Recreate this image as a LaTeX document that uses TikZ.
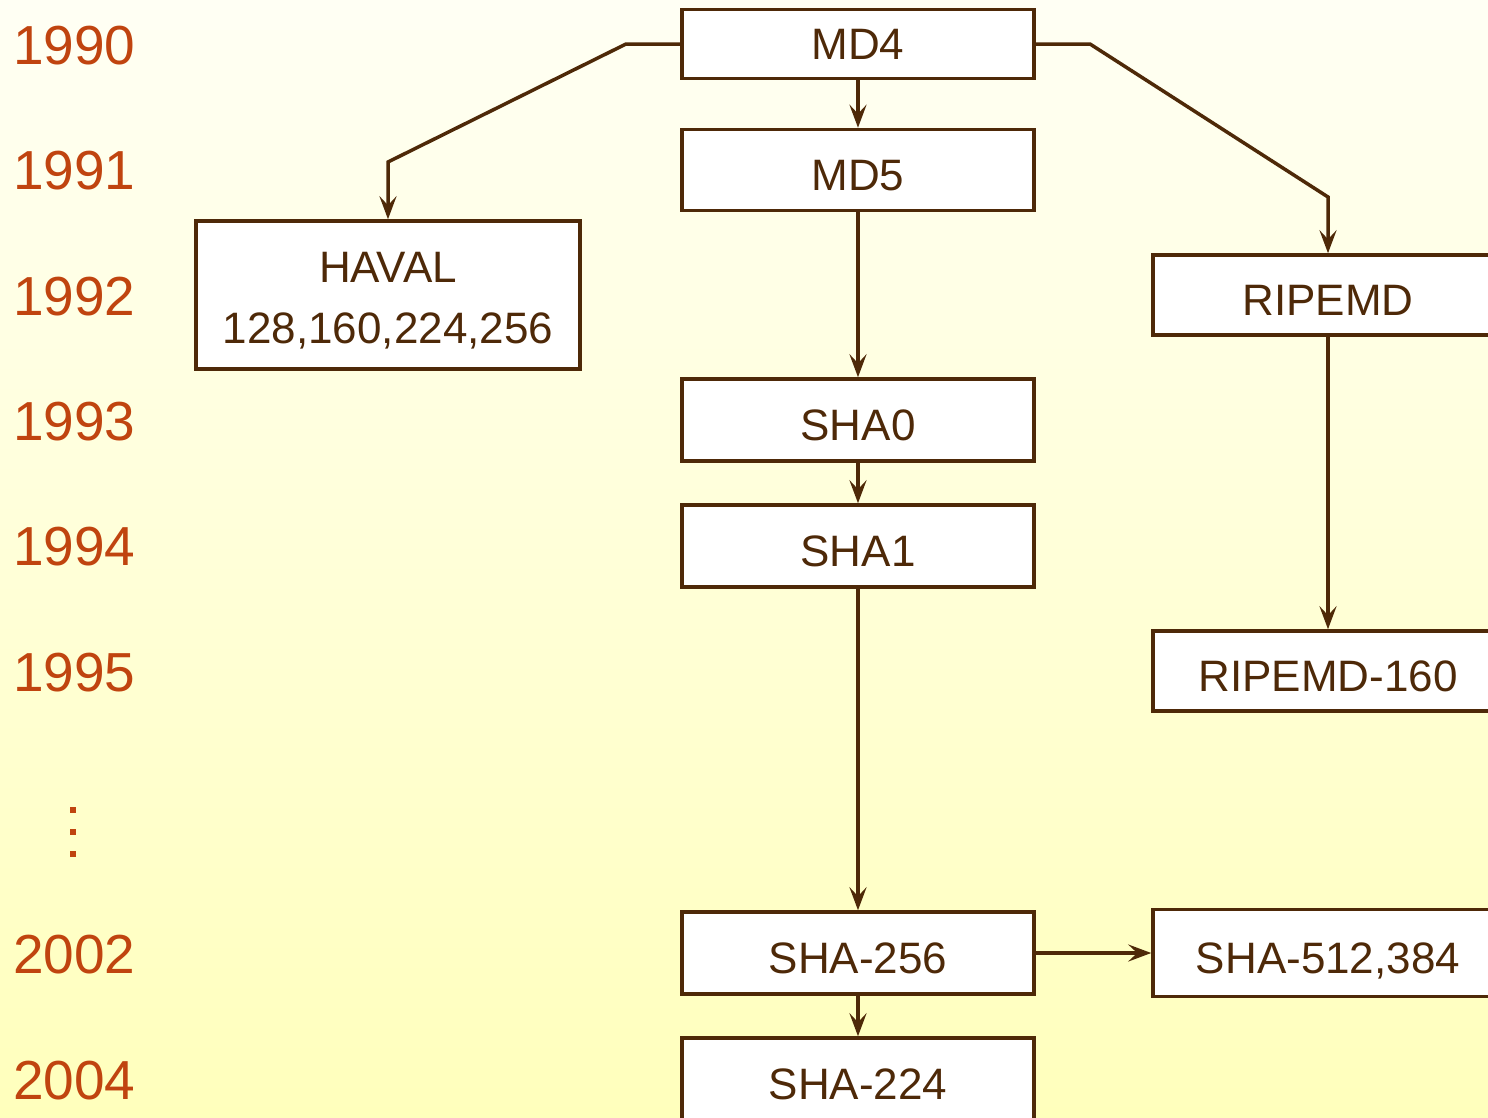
\documentclass[tikz,border=0pt]{standalone}
\usepackage{fontspec}
\setmainfont{Liberation Sans}
\usetikzlibrary{arrows.meta}
\definecolor{ink}{HTML}{4E2908}
\definecolor{yearc}{HTML}{C0440F}
\definecolor{bgtop}{HTML}{FFFFF4}
\definecolor{bgbot}{HTML}{FFFFBC}
\begin{document}
\begin{tikzpicture}[x=1pt,y=-1pt,
  hashbox/.style={draw=ink, line width=3.5pt, fill=white, text=ink,
    minimum width=352pt, minimum height=82pt, inner sep=0pt,
    font=\fontsize{44}{61}\selectfont, text height=41pt, text depth=0pt},
  year/.style={text=yearc, font=\fontsize{55}{60}\selectfont, anchor=west,
    inner sep=0pt, text height=39pt, text depth=0pt},
  link/.style={draw=ink, line width=3.5pt,
    -{Stealth[length=23pt,width=17pt,inset=9pt]}}]
% page and background
\useasboundingbox (0,0) rectangle (1488,1117);
\shade[top color=bgtop, bottom color=bgbot] (0,0) rectangle (1488,1117);

% years
\node[year] (y90) at (13,45) {1990};
\node[year] (y91) at (13,170) {1991};
\node[year] (y92) at (13,296) {1992};
\node[year] (y93) at (13,421) {1993};
\node[year] (y94) at (13,546) {1994};
\node[year] (y95) at (13,672) {1995};
\node[year] (y02) at (13,954) {2002};
\node[year] (y04) at (13,1080) {2004};
\foreach \yy in {807,829,851}
  \fill[yearc] (70,\yy) rectangle (76,\yy+6);

% algorithms
\node[hashbox, minimum height=69pt, text height=31pt] (md4) at (858,44) {MD4};
\node[hashbox, minimum height=81pt] (md5) at (858,170) {MD5};
\node[hashbox, minimum width=384pt, minimum height=148pt, text height=96pt,
      align=center] (haval) at (388,295) {HAVAL\\128,160,224,256};
\node[hashbox, minimum width=350pt, minimum height=80pt] (rip) at (1328,295) {RIPEMD};
\node[hashbox] (sha0) at (858,420) {SHA0};
\node[hashbox] (sha1) at (858,546) {SHA1};
\node[hashbox, minimum width=350pt, minimum height=80pt] (rip160) at (1328,671) {RIPEMD-160};
\node[hashbox] (sha256) at (858,953) {SHA-256};
\node[hashbox, minimum width=350pt, minimum height=87pt] (sha512) at (1328,953) {SHA-512,384};
\node[hashbox] (sha224) at (858,1079) {SHA-224};

% connectors
\coordinate (hl1) at (626,44);
\coordinate (hl2) at (388,162);
\coordinate (hr1) at (1090,44);
\coordinate (hr2) at (1328,197);
\draw[link] (md4.west) -- (hl1) -- (hl2) -- (haval.north);
\draw[link] (md4.east) -- (hr1) -- (hr2) -- (rip.north);
\draw[link] (md4) -- (md5);
\draw[link] (md5) -- (sha0);
\draw[link] (sha0) -- (sha1);
\draw[link] (sha1) -- (sha256);
\draw[link] (rip) -- (rip160);
\draw[link] (sha256) -- (sha512);
\draw[link] (sha256) -- (sha224);
\end{tikzpicture}
\end{document}
